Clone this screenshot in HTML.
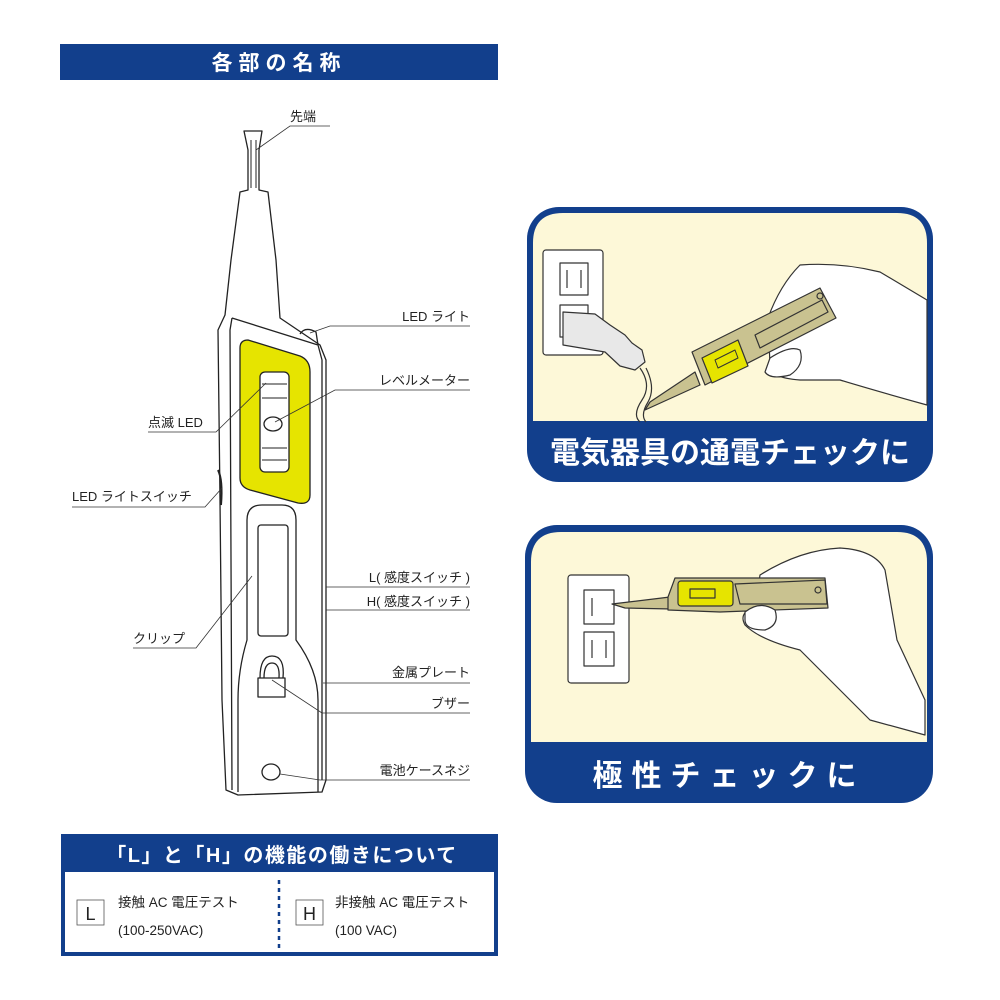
<!DOCTYPE html>
<html><head><meta charset="utf-8"><style>
html,body{margin:0;padding:0;background:#fff;}
svg{display:block}
text{font-family:"Liberation Sans","Noto Sans CJK JP",sans-serif;}
</style></head><body>
<svg width="1000" height="1000" viewBox="0 0 1000 1000" xmlns="http://www.w3.org/2000/svg">
<rect width="1000" height="1000" fill="#fff"/>
<!-- header -->
<rect x="60" y="44" width="438" height="36" fill="#123f8c"/>
<text x="279" y="70" font-size="21" font-weight="bold" fill="#fff" text-anchor="middle" letter-spacing="6">各部の名称</text>

<!-- tester -->
<g fill="none" stroke="#222" stroke-width="1.3" stroke-linejoin="round">
<path d="M244,131 L262,131 L259,150 L259,190 L268,192 L276,260 L280,318 L320,345 L326,360 L326,780 L322,792 L238,795 L226,790 L222,700 L220,500 L218,330 L225,315 L231,260 L240,192 L248,190 L248,150 Z" fill="#fff"/>
<path d="M248,150 L248,190 M259,150 L259,190 M251,140 L251,188 M256,140 L256,188" stroke-width="1"/>
<path d="M232,318 L318,345 L322,360 L322,780"/>
<path d="M232,318 L230,330 L232,790"/>
<path d="M300,334 Q305,326 316,332 L318,345"/>
<path d="M240,348 Q240,340 248,340 L300,356 Q310,360 310,372 L310,495 Q310,505 298,503 L250,490 Q240,487 240,478 Z" fill="#e6e400"/>
<rect x="260" y="372" width="29" height="100" rx="5" fill="#fff"/>
<path d="M262,384 L287,384 M262,398 L287,398 M262,448 L287,448 M262,460 L287,460" stroke-width="1"/>
<ellipse cx="273" cy="424" rx="9" ry="7" fill="#fff"/>
<path d="M247,520 Q247,505 262,505 L282,505 Q296,505 296,520 L296,640 Q318,670 318,700 L318,792 M247,520 L247,640 Q238,670 238,700 L238,792"/>
<rect x="258" y="525" width="30" height="111" rx="3"/>
<path d="M258,697 L258,678 L285,678 L285,697 Z M260,678 Q260,656 272,656 Q285,656 283,678 M264,678 Q264,663 272,663 Q280,663 279,678"/>
<ellipse cx="271" cy="772" rx="9" ry="8"/>
<path d="M218,470 Q223,480 221,505" stroke-width="2"/>
</g>

<!-- labels -->
<g stroke="#333" stroke-width="0.8" fill="none">
<path d="M256,150 L290,126 L330,126"/>
<path d="M310,333 L330,326 L470,326"/>
<path d="M275,422 L335,390 L470,390"/>
<path d="M266,383 L216,432 L148,432"/>
<path d="M222,488 L205,507 L72,507"/>
<path d="M326,587 L470,587 M326,610 L470,610"/>
<path d="M252,576 L196,648 L133,648"/>
<path d="M323,683 L470,683"/>
<path d="M272,680 L322,713 L470,713"/>
<path d="M280,774 L320,780 L470,780"/>
</g>
<g font-size="13" fill="#222">
<text x="290" y="121">先端</text>
<text x="470" y="321" text-anchor="end">LED ライト</text>
<text x="470" y="385" text-anchor="end">レベルメーター</text>
<text x="148" y="427">点滅 LED</text>
<text x="72" y="501">LED ライトスイッチ</text>
<text x="470" y="582" text-anchor="end">L( 感度スイッチ )</text>
<text x="470" y="606" text-anchor="end">H( 感度スイッチ )</text>
<text x="133" y="643">クリップ</text>
<text x="470" y="677" text-anchor="end">金属プレート</text>
<text x="470" y="708" text-anchor="end">ブザー</text>
<text x="470" y="775" text-anchor="end">電池ケースネジ</text>
</g>

<!-- panel 1 -->
<rect x="527" y="207" width="406" height="275" rx="32" fill="#123f8c"/>
<path d="M533,243 Q533,213 563,213 L897,213 Q927,213 927,243 L927,421 L533,421 Z" fill="#fdf8d8"/>
<text x="730" y="463" font-size="30" font-weight="bold" fill="#fff" text-anchor="middle">電気器具の通電チェックに</text>
<g stroke="#333" stroke-width="1.2" stroke-linejoin="round">
<rect x="543" y="250" width="60" height="105" rx="3" fill="#fff"/>
<rect x="560" y="263" width="28" height="32" fill="#fff"/>
<line x1="567" y1="270" x2="567" y2="288"/><line x1="581" y1="270" x2="581" y2="288"/>
<rect x="560" y="305" width="28" height="32" fill="#fff"/>
<path d="M563,312 L595,314 L610,325 L625,335 L632,343 L642,350 L645,362 L635,370 L620,366 L605,352 L563,345 Z" fill="#e8e8e8"/>
<path d="M640,368 Q652,385 642,400 Q632,415 640,422" fill="none"/>
<path d="M646,368 Q656,388 648,402 Q640,415 646,422" fill="none"/>
<!-- hand back -->
<path d="M768,318 Q780,285 800,265 Q840,262 880,272 L927,300 L927,405 Q880,392 840,380 L800,380 Q770,378 770,365 Z" fill="#fff"/>
<!-- tester -->
<path d="M645,410 L650,402 L695,372 L700,385 Z" fill="#c9c290"/>
<path d="M692,352 L820,288 L836,318 L705,385 Z" fill="#c9c290"/>
<path d="M702,358 L738,340 L748,366 L712,383 Z" fill="#e6e400"/>
<path d="M715,360 L735,350 L738,358 L718,368 Z" fill="none" stroke-width="1"/>
<path d="M755,335 L822,300 L828,312 L760,348 Z" fill="#c9c290"/>
<circle cx="820" cy="296" r="3" fill="none"/>
<!-- thumb -->
<path d="M770,358 Q790,345 800,350 Q805,365 790,375 Q770,380 765,372 Z" fill="#fff"/>
</g>

<!-- panel 2 -->
<rect x="525" y="525" width="408" height="278" rx="32" fill="#123f8c"/>
<path d="M531,562 Q531,532 561,532 L897,532 Q927,532 927,562 L927,742 L531,742 Z" fill="#fdf8d8"/>
<text x="729" y="786" font-size="30" font-weight="bold" fill="#fff" text-anchor="middle" letter-spacing="9">極性チェックに</text>
<g stroke="#333" stroke-width="1.2" stroke-linejoin="round">
<rect x="568" y="575" width="61" height="108" rx="3" fill="#fff"/>
<rect x="584" y="590" width="30" height="34" fill="#fff"/>
<rect x="584" y="632" width="30" height="34" fill="#fff"/>
<line x1="592" y1="640" x2="592" y2="658"/><line x1="606" y1="640" x2="606" y2="658"/>
<line x1="592" y1="598" x2="592" y2="616"/>
<!-- hand -->
<path d="M760,575 Q800,550 840,548 Q875,550 885,570 L897,640 L925,700 L925,735 L870,720 Q830,680 800,650 Q760,640 745,625 Q738,612 755,608 Z" fill="#fff"/>
<!-- tester -->
<path d="M612,604 L670,597 L672,609 L625,608 Z" fill="#c9c290"/>
<path d="M668,597 L675,578 L825,578 L828,608 L720,612 L668,610 Z" fill="#c9c290"/>
<rect x="678" y="581" width="55" height="25" rx="3" fill="#e6e400"/>
<rect x="690" y="589" width="25" height="9" fill="none"/>
<path d="M735,584 L825,580 L827,604 L740,604 Z" fill="#c9c290"/>
<circle cx="818" cy="590" r="3" fill="none"/>
<path d="M745,612 Q760,600 775,610 Q780,625 765,630 Q745,630 745,620 Z" fill="#fff"/>
</g>

<!-- bottom box -->
<rect x="61" y="834" width="437" height="122" fill="#123f8c"/>
<rect x="65" y="872" width="429" height="80" fill="#fff"/>
<text x="282" y="862" font-size="20" font-weight="bold" fill="#fff" text-anchor="middle" letter-spacing="1.5">「L」と「H」の機能の働きについて</text>
<line x1="279" y1="880" x2="279" y2="948" stroke="#123f8c" stroke-width="2.5" stroke-dasharray="4,4"/>
<rect x="77" y="900" width="27" height="25" fill="#fff" stroke="#555" stroke-width="0.8"/>
<text x="90.5" y="920" font-size="18" text-anchor="middle" fill="#222">L</text>
<rect x="296" y="900" width="27" height="25" fill="#fff" stroke="#555" stroke-width="0.8"/>
<text x="309.5" y="920" font-size="18" text-anchor="middle" fill="#222">H</text>
<g font-size="13.5" fill="#222">
<text x="118" y="907">接触 AC 電圧テスト</text>
<text x="118" y="935">(100-250VAC)</text>
<text x="335" y="907">非接触 AC 電圧テスト</text>
<text x="335" y="935">(100 VAC)</text>
</g>
</svg>
</body></html>
